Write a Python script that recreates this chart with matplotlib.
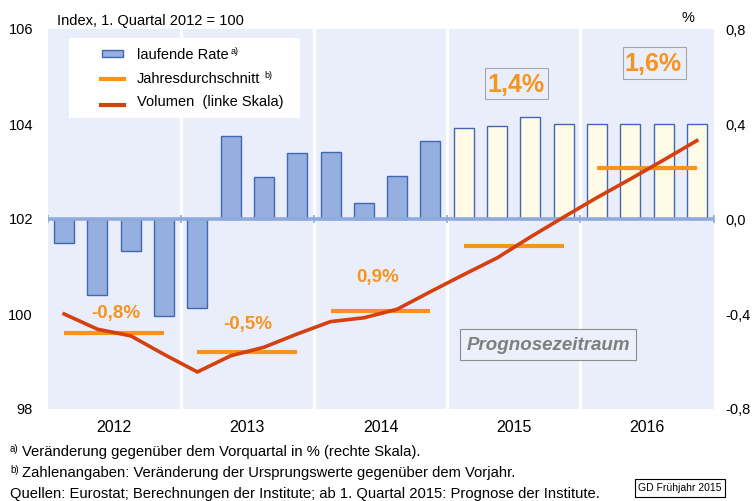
import matplotlib
matplotlib.use('Agg')
import matplotlib.pyplot as plt
from matplotlib.patches import Rectangle
from matplotlib.lines import Line2D

plt.rcParams['font.family'] = ['Liberation Sans', 'DejaVu Sans']

# ---------------- data ----------------
years = ['2012', '2013', '2014', '2015', '2016']
# quarterly change in % (right scale)
rate = [-0.10, -0.32, -0.135, -0.41,
        -0.375, 0.349, 0.178, 0.277,
        0.281, 0.066, 0.181, 0.33,
        0.384, 0.393, 0.43, 0.40,
        0.40, 0.40, 0.40, 0.40]
forecast = [False] * 12 + [True] * 8
# volume index (left scale)
volume = [100.0, 99.68, 99.54, 99.15,
          98.78, 99.12, 99.30, 99.58,
          99.84, 99.92, 100.10, 100.47,
          100.83, 101.18, 101.62, 102.04,
          102.45, 102.84, 103.24, 103.65]
# annual average level (left scale) and labels
annual_level = [99.59, 99.19, 100.06, 101.43, 103.07]
annual_labels = ['-0,8%', '-0,5%', '0,9%', '1,4%', '1,6%']
left_ticks = [98, 100, 102, 104, 106]
right_ticks = [-0.8, -0.4, 0.0, 0.4, 0.8]
right_ticklabels = ['-0,8', '-0,4', '0,0', '0,4', '0,8']

# ---------------- style ----------------
BG = '#EAEEFA'
BAR = '#95B0E0'
BAR_FC = '#FFFBE6'
BAR_EDGE = '#4267B2'
ZERO = '#8FAADC'
ORANGE = '#F7941D'
RED = '#D5400F'
W, H = 755, 501


def fx(px):
    return px / W


def fy(py):
    return 1 - py / H


fig = plt.figure(figsize=(7.55, 5.01), dpi=100)
L, R, T, B = 47.5, 713.5, 29, 409
ax = fig.add_axes([fx(L), fy(B), (R - L) / W, (B - T) / H])
ax2 = ax.twinx()
ax.set_zorder(3)
ax2.set_zorder(1)
ax.patch.set_visible(False)
ax2.patch.set_visible(True)
ax2.patch.set_facecolor(BG)

n = len(rate)
xs = list(range(n))

# separators
for k in range(1, len(years)):
    ax2.axvline(4 * k - 0.5, color='white', lw=2.4, zorder=0.5)

# bars
fcs = [BAR_FC if f else BAR for f in forecast]
ax2.bar(xs, rate, width=0.6, color=fcs, edgecolor=BAR_EDGE, linewidth=1.0, zorder=2)
ax2.axhline(0, color=ZERO, lw=2.6, zorder=3)
ax2.plot([4 * k - 0.5 for k in range(len(years) + 1)], [0] * (len(years) + 1),
         ls='none', marker='|', ms=6, mew=1.2, color=ZERO, zorder=3)

# annual averages
for i, lev in enumerate(annual_level):
    ax.hlines(lev, 4 * i, 4 * i + 3, color=ORANGE, lw=3, zorder=4)

# volume line
ax.plot(xs, volume, color=RED, lw=2.6, zorder=5, solid_joinstyle='miter')

ax.set_xlim(-0.5, n - 0.5)
ax.set_ylim(98, 106)
ax2.set_ylim(-0.8, 0.8)
ax.set_yticks(left_ticks)
ax.set_yticklabels([str(t) for t in left_ticks])
ax2.set_yticks(right_ticks)
ax2.set_yticklabels(right_ticklabels)
ax.set_xticks([4 * i + 1.5 for i in range(len(years))])
ax.set_xticklabels(years)
ax.tick_params(axis='y', length=0, pad=10.5, labelsize=10.5)
ax2.tick_params(axis='y', length=0, pad=8.5, labelsize=10.5)
ax.tick_params(axis='x', length=0, pad=8, labelsize=11.5)
for a in (ax, ax2):
    for s in a.spines.values():
        s.set_visible(False)

# annual labels
lab_pos = [(1.56, 100.02, 13.5), (5.5, 99.77, 13.5), (9.4, 100.76, 13.5),
           (13.57, 104.82, 18), (17.69, 105.26, 18)]
for (x, y, fs), t in zip(lab_pos, annual_labels):
    ax.text(x, y, t, color=ORANGE, fontsize=fs, fontweight='bold',
            ha='center', va='center', zorder=6)

# boxes around 1,4% and 1,6%
for (x0, y0, x1, y1) in [(485, 68, 548, 99), (623, 47, 686, 79)]:
    ax.add_artist(Rectangle((fx(x0), fy(y1)), fx(x1) - fx(x0), fy(y0) - fy(y1),
                            transform=fig.transFigure, facecolor='none',
                            edgecolor='#A6A6A6', lw=0.8, zorder=5.5, clip_on=False))

# Prognosezeitraum box
ax.add_artist(Rectangle((fx(460), fy(360)), fx(636) - fx(460), fy(329) - fy(360),
                        transform=fig.transFigure, facecolor='#EDF0FB',
                        edgecolor='#8C8C8C', lw=0.8, zorder=5.5, clip_on=False))
fig.text(fx(548), fy(345), 'Prognosezeitraum', color='#7F7F7F', fontsize=13.5,
         fontweight='bold', fontstyle='italic', ha='center', va='center', zorder=10)

# legend (manual)
ax.add_artist(Rectangle((fx(69), fy(118)), fx(300) - fx(69), fy(38) - fy(118),
                        transform=fig.transFigure, facecolor='white',
                        edgecolor='none', zorder=7, clip_on=False))
ax.add_artist(Rectangle((fx(101.5), fy(56.5)), fx(123.5) - fx(101.5), fy(50) - fy(56.5),
                        transform=fig.transFigure, facecolor=BAR,
                        edgecolor=BAR_EDGE, lw=1.0, zorder=8, clip_on=False))
ax.add_artist(Line2D([fx(101), fx(124)], [fy(79), fy(79)], transform=fig.transFigure,
                     color=ORANGE, lw=3, zorder=8, clip_on=False))
ax.add_artist(Line2D([fx(101), fx(124)], [fy(104.5), fy(104.5)], transform=fig.transFigure,
                     color=RED, lw=3, zorder=8, clip_on=False))
fig.text(fx(137), fy(55), 'laufende Rate', fontsize=10.5, va='center', ha='left', zorder=10)
fig.text(fx(231), fy(51), 'a)', fontsize=6.5, va='center', ha='left', zorder=10)
fig.text(fx(137), fy(79), 'Jahresdurchschnitt', fontsize=10.5, va='center', ha='left', zorder=10)
fig.text(fx(264), fy(75), 'b)', fontsize=6.5, va='center', ha='left', zorder=10)
fig.text(fx(137), fy(102), 'Volumen  (linke Skala)', fontsize=10.5, va='center', ha='left', zorder=10)

# header texts
fig.text(fx(57), fy(21), 'Index, 1. Quartal 2012 = 100', fontsize=10.5, va='center', ha='left')
fig.text(fx(688), fy(18), '%', fontsize=10.5, va='center', ha='center')

# footnotes
fig.text(fx(10), fy(449), 'a)', fontsize=7, va='center', ha='left')
fig.text(fx(22), fy(452), 'Veränderung gegenüber dem Vorquartal in % (rechte Skala).',
         fontsize=10.6, va='center', ha='left')
fig.text(fx(10), fy(470), 'b)', fontsize=7, va='center', ha='left')
fig.text(fx(22), fy(473), 'Zahlenangaben: Veränderung der Ursprungswerte gegenüber dem Vorjahr.',
         fontsize=10.6, va='center', ha='left')
fig.text(fx(10), fy(494), 'Quellen: Eurostat; Berechnungen der Institute; ab 1. Quartal 2015: Prognose der Institute.',
         fontsize=10.6, va='center', ha='left')
fig.text(fx(680), fy(488), 'GD Frühjahr 2015', fontsize=7.5, va='center', ha='center',
         bbox=dict(boxstyle='square,pad=0.35', facecolor='white', edgecolor='black', lw=0.8))

fig.savefig('out.png', dpi=100)
